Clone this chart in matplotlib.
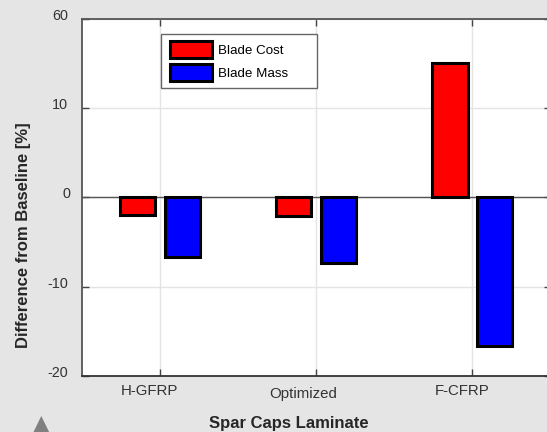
import matplotlib
matplotlib.use("Agg")
import matplotlib.pyplot as plt
from matplotlib.patches import Rectangle, Polygon, Patch
from matplotlib.transforms import ScaledTranslation
import numpy as np

plt.rcParams['font.family'] = ['Liberation Sans', 'DejaVu Sans']

# Data: percentage change relative to the baseline laminate
laminates = ["H-GFRP", "Optimized", "F-CFRP"]
blade_cost = [-2.0, -2.1, 15.0]
blade_mass = [-6.7, -7.35, -16.6]
series_names = ["Blade Cost", "Blade Mass"]
series_colors = ["#ff0000", "#0000ff"]
y_ticks = [-20, -10, 0, 10, 20]
y_tick_labels = ["-20", "-10", "0", "10", "60"]

W, H = 547, 432
fig = plt.figure(figsize=(W / 100, H / 100), dpi=100)
fig.patch.set_facecolor("#e5e5e5")

ax = fig.add_axes([81.7 / W, 1 - 376 / H, 3 * 156.3 / W, (376 - 18.7) / H])
ax.set_facecolor("white")

x = np.arange(1, len(laminates) + 1)
bw = 0.225
off = 0.1435
for vals, name, col, sgn in zip([blade_cost, blade_mass], series_names,
                                series_colors, [-1, 1]):
    ax.bar(x + sgn * off, vals, width=bw, color=col, edgecolor="black",
           linewidth=2.2, label=name, zorder=3)

ax.axhline(0, color="#555555", linewidth=1.0, zorder=2)

ax.set_xlim(0.5, 3.5)
ax.set_ylim(-20, 20)
ax.set_xticks(x)
ax.set_xticklabels(laminates)
ax.set_yticks(y_ticks)
ax.set_yticklabels(y_tick_labels)

ax.grid(True, color="#e4e4e4", linewidth=1.0, zorder=0)
ax.set_axisbelow(True)

ax.tick_params(axis="both", direction="in", length=5, width=1,
               color="#444444", top=True, right=True)
ax.tick_params(axis="x", labelsize=10.8, labelcolor="#333333", pad=6.0)
ax.tick_params(axis="y", labelsize=10.4, labelcolor="#333333", pad=10.0)

for s in ax.spines.values():
    s.set_color("#555555")
    s.set_linewidth(1.3)
ax.spines["bottom"].set_color("#333333")

# shift individual tick labels (offsets in pixels)
def shift(label, dx, dy):
    label.set_transform(label.get_transform() +
                        ScaledTranslation(dx / 100, dy / 100, fig.dpi_scale_trans))

for lab, (dx, dy) in zip(ax.get_xticklabels(), [(-10, 0), (-12.5, -3), (-10, 0)]):
    shift(lab, dx, dy)
for lab, txt in zip(ax.get_yticklabels(), y_tick_labels):
    shift(lab, 3 if txt == "0" else 0, 4.4)

fig.text(288.7 / W, 1 - 423.3 / H, "Spar Caps Laminate", ha="center",
         va="center", fontsize=12, fontweight="bold", color="#262626")
fig.text(23.3 / W, 1 - 235 / H, "Difference from Baseline [%]", ha="center",
         va="center", rotation=90, fontsize=12, fontweight="bold",
         color="#262626")

# legend
handles = [Patch(facecolor=c, edgecolor="black", linewidth=2.2)
           for c in series_colors]
leg = fig.legend(handles, series_names, loc="upper left",
                 bbox_to_anchor=(169.8 / W, 1 - 40.8 / H), borderaxespad=0,
                 borderpad=0, frameon=False, fontsize=9.6,
                 handlelength=3.15, handleheight=1.585, labelspacing=0.48,
                 handletextpad=0.45)
for t in leg.get_texts():
    t.set_color("black")
fig.patches.append(Rectangle((161 / W, 1 - 88.3 / H), (316.7 - 161) / W,
                             (88.3 - 34) / H, transform=fig.transFigure,
                             facecolor="white", edgecolor="#666666",
                             linewidth=1.0, zorder=4))
leg.set_zorder(5)

# small marker in the lower-left corner
fig.patches.append(Polygon([(41.3 / W, 1 - 416 / H), (29.6 / W, 1 - 440 / H),
                            (53 / W, 1 - 440 / H)], closed=True,
                           transform=fig.transFigure, facecolor="#808080",
                           edgecolor="none"))

fig.savefig("out.png", dpi=100, facecolor=fig.get_facecolor())
